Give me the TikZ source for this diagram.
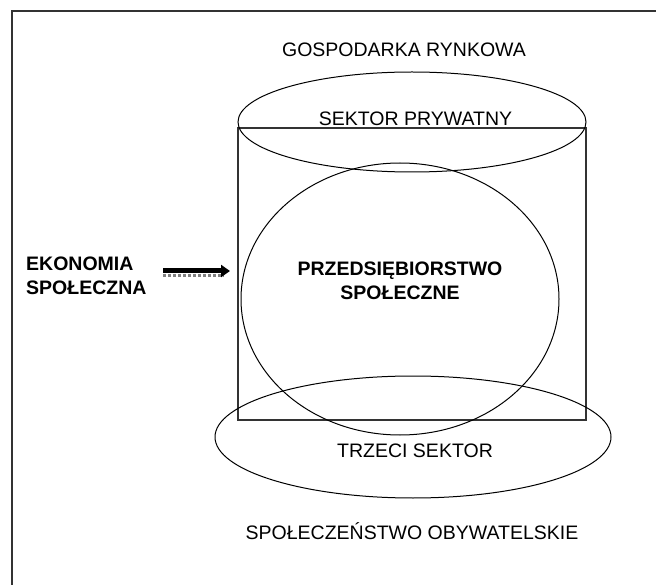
\documentclass[tikz,border=0pt]{standalone}
\usepackage{fontspec}
\setmainfont{Liberation Sans}
\usetikzlibrary{shapes.geometric,arrows.meta}
\begin{document}
\begin{tikzpicture}[x=1pt,y=-1pt,
  lbl/.style={font=\fontsize{19.5}{23}\selectfont, inner sep=0pt, align=center},
  blbl/.style={lbl, font=\fontsize{19.5}{24}\selectfont\bfseries},
  oval/.style={ellipse, draw=black, line width=1pt, inner sep=0pt},
  box/.style={draw=black!80, line width=1.6pt}]
\useasboundingbox (0,0) rectangle (656,585);
\clip (0,0) rectangle (656,585);
% outer frame (runs past the right and bottom edges)
\draw[draw=black!80, line width=2pt] (11.5,620) -- (11.5,11.5) -- (700,11.5);

% central rectangle
\draw[box] (238,128) rectangle (586,420);

% the three ovals
\node[oval, minimum width=348pt, minimum height=100pt] (top) at (412,122) {};
\node[oval, minimum width=318pt, minimum height=272pt] (mid) at (400,299) {};
\node[oval, minimum width=396pt, minimum height=122pt] (bot) at (413,437) {};

% labels
\node[lbl] (gosp) at (404,50) {GOSPODARKA RYNKOWA};
\node[lbl] (prywatny) at (415.5,118.5) {SEKTOR PRYWATNY};
\node[blbl] (przeds) at (400,281) {PRZEDSIĘBIORSTWO\\SPOŁECZNE};
\node[lbl] (trzeci) at (415,451) {TRZECI SEKTOR};
\node[lbl] (obyw) at (412,531) {SPOŁECZEŃSTWO OBYWATELSKIE};
\node[blbl, anchor=west, align=left] (ekon) at (26,276) {EKONOMIA\\SPOŁECZNA};

% arrow pointing into the rectangle, with a dotted drop shadow below it
\coordinate (atail) at (163,271);
\coordinate (ahead) at (230,271);
\draw[gray, line width=3pt, dotted] ([yshift=-5pt]atail) -- ([xshift=-6pt,yshift=-5pt]ahead);
\draw[line width=5pt, -{Triangle[length=9pt,width=12pt]}] (atail) -- (ahead);
\end{tikzpicture}
\end{document}
